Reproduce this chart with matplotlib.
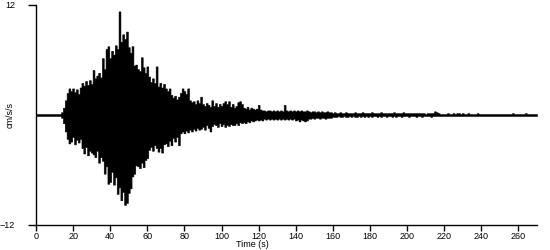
import numpy as np
import matplotlib
matplotlib.use("Agg")
import matplotlib.pyplot as plt

plt.rcParams['font.family'] = ['Liberation Sans', 'DejaVu Sans']

# one value per second, t = 0 .. 270 s (positive and negative peak, cm/s/s)
time_s = np.arange(0, 271)

upper = [
    0.1, 0.1, 0.1, 0.1, 0.1, 0.1, 0.1, 0.1, 0.1, 0.1,
    0.1, 0.1, 0.1, 0.1, 0.3, 0.8, 1.6, 2.4, 2.9, 2.6,
    2.9, 2.5, 2.8, 2.3, 3.0, 3.5, 3.2, 3.7, 3.3, 3.8,
    3.4, 4.9, 4.0, 4.3, 4.6, 4.1, 6.2, 5.0, 7.2, 7.5,
    6.2, 7.0, 6.6, 7.6, 7.2, 11.3, 8.0, 8.8, 8.3, 9.1,
    7.4, 6.8, 7.5, 5.4, 5.5, 5.0, 4.8, 6.3, 5.2, 4.6,
    5.3, 4.2, 3.6, 4.0, 3.5, 5.3, 3.1, 3.5, 3.0, 3.4,
    2.9, 2.6, 2.9, 2.2, 1.9, 2.1, 1.7, 2.0, 2.4, 2.9,
    2.6, 2.3, 2.9, 1.6, 1.4, 1.5, 1.2, 1.6, 1.3, 2.0,
    1.2, 1.0, 1.3, 1.1, 0.9, 1.6, 1.0, 1.3, 0.9, 1.2,
    1.0, 1.3, 1.5, 1.2, 1.5, 0.9, 1.2, 0.8, 1.0, 1.4,
    1.5, 1.2, 0.8, 0.7, 0.9, 0.6, 0.8, 0.7, 0.6, 0.7,
    1.1, 0.6, 0.5, 0.5, 0.4, 0.5, 0.5, 0.4, 0.5, 0.4,
    0.5, 0.4, 0.5, 0.4, 1.1, 0.5, 0.4, 0.5, 0.4, 0.5,
    0.4, 0.5, 0.4, 0.5, 0.4, 0.4, 0.5, 0.4, 0.3, 0.4,
    0.4, 0.3, 0.4, 0.3, 0.4, 0.3, 0.3, 0.4, 0.3, 0.3,
    0.2, 0.3, 0.2, 0.2, 0.3, 0.2, 0.2, 0.3, 0.2, 0.2,
    0.2, 0.2, 0.3, 0.2, 0.2, 0.2, 0.3, 0.2, 0.2, 0.2,
    0.2, 0.3, 0.2, 0.2, 0.2, 0.2, 0.3, 0.2, 0.2, 0.2,
    0.2, 0.2, 0.2, 0.3, 0.2, 0.2, 0.2, 0.2, 0.3, 0.2,
    0.2, 0.2, 0.2, 0.2, 0.2, 0.2, 0.2, 0.2, 0.2, 0.2,
    0.1, 0.2, 0.2, 0.2, 0.2, 0.4, 0.3, 0.2, 0.1, 0.1,
    0.1, 0.1, 0.2, 0.1, 0.1, 0.2, 0.1, 0.2, 0.2, 0.1,
    0.2, 0.1, 0.1, 0.2, 0.1, 0.1, 0.1, 0.1, 0.2, 0.1,
    0.1, 0.1, 0.1, 0.1, 0.1, 0.1, 0.1, 0.1, 0.1, 0.1,
    0.1, 0.1, 0.1, 0.1, 0.1, 0.1, 0.1, 0.2, 0.1, 0.1,
    0.1, 0.1, 0.1, 0.1, 0.2, 0.1, 0.1, 0.1, 0.1, 0.1,
    0.1,
]

lower = [
    0.1, 0.1, 0.1, 0.1, 0.1, 0.1, 0.1, 0.1, 0.1, 0.1,
    0.1, 0.1, 0.1, 0.1, 0.3, 0.9, 1.8, 2.6, 3.1, 2.9,
    2.4, 3.2, 2.7, 3.0, 2.6, 3.6, 4.2, 3.5, 4.4, 3.9,
    4.1, 4.3, 4.6, 3.9, 5.2, 4.6, 5.0, 6.4, 5.6, 7.5,
    7.3, 6.2, 7.6, 6.8, 8.6, 7.9, 9.3, 8.4, 9.8, 9.6,
    8.5, 8.0, 6.7, 6.4, 5.5, 5.6, 5.8, 5.2, 5.7, 4.9,
    4.7, 3.8, 3.5, 3.9, 3.3, 3.6, 4.0, 3.6, 4.1, 3.2,
    3.1, 3.4, 2.8, 3.3, 2.5, 2.9, 2.4, 3.3, 2.0, 1.8,
    2.0, 1.7, 1.9, 1.6, 1.8, 1.5, 1.7, 1.4, 1.6, 1.5,
    1.3, 1.6, 1.1, 1.4, 1.8, 1.2, 1.0, 1.1, 1.3, 0.9,
    1.2, 1.0, 1.3, 1.1, 1.2, 1.0, 1.1, 1.1, 0.9, 1.1,
    0.8, 0.9, 0.8, 0.9, 0.7, 0.8, 0.6, 0.7, 0.6, 0.5,
    0.6, 0.5, 0.6, 0.4, 0.5, 0.4, 0.5, 0.4, 0.5, 0.4,
    0.5, 0.4, 0.5, 0.4, 0.5, 0.4, 0.5, 0.4, 0.5, 0.4,
    0.6, 0.5, 0.7, 0.5, 0.6, 0.7, 0.6, 0.4, 0.4, 0.3,
    0.4, 0.3, 0.3, 0.4, 0.3, 0.3, 0.4, 0.3, 0.3, 0.3,
    0.2, 0.2, 0.2, 0.1, 0.2, 0.2, 0.1, 0.2, 0.2, 0.1,
    0.2, 0.1, 0.2, 0.2, 0.1, 0.2, 0.1, 0.2, 0.1, 0.2,
    0.1, 0.2, 0.1, 0.1, 0.2, 0.1, 0.2, 0.1, 0.1, 0.2,
    0.1, 0.1, 0.2, 0.1, 0.2, 0.1, 0.1, 0.2, 0.1, 0.1,
    0.1, 0.2, 0.1, 0.1, 0.1, 0.2, 0.1, 0.1, 0.2, 0.1,
    0.1, 0.1, 0.1, 0.2, 0.1, 0.1, 0.1, 0.1, 0.1, 0.1,
    0.1, 0.1, 0.1, 0.1, 0.1, 0.1, 0.1, 0.1, 0.1, 0.1,
    0.1, 0.1, 0.1, 0.1, 0.1, 0.1, 0.1, 0.1, 0.1, 0.1,
    0.1, 0.1, 0.1, 0.1, 0.1, 0.1, 0.1, 0.1, 0.1, 0.1,
    0.1, 0.1, 0.1, 0.1, 0.1, 0.1, 0.1, 0.1, 0.1, 0.1,
    0.1, 0.1, 0.1, 0.1, 0.1, 0.1, 0.1, 0.1, 0.1, 0.1,
    0.1,
]

x_ticks = list(range(0, 261, 20))
y_ticks = [-12, 12]

fig = plt.figure(figsize=(5.5, 2.5), dpi=100)
ax = fig.add_axes([36 / 550, 25 / 250, 501 / 550, 220 / 250])

# solid band between the positive and negative peak of each second
ax.fill_between(time_s, upper, -np.array(lower), step='mid',
                facecolor='black', edgecolor='black', linewidth=0.4)

ax.set_xlim(0, 270)
ax.set_ylim(-12, 12)
ax.set_xticks(x_ticks)
ax.set_yticks(y_ticks)
ax.tick_params(axis='x', direction='out', length=4, width=1, pad=1, labelsize=6.5)
ax.tick_params(axis='y', direction='out', length=6, width=1, pad=9, labelsize=6.5)

for side in ['top', 'right']:
    ax.spines[side].set_visible(False)
for side in ['left', 'bottom']:
    ax.spines[side].set_linewidth(1)

ax.set_xlabel('Time (s)', fontsize=6.5)
ax.xaxis.set_label_coords(0.431, -0.07)
ax.set_ylabel('cm/s/s', fontsize=6.5)
ax.yaxis.set_label_coords(-0.042, 0.5)

fig.savefig('out.png', dpi=100)
